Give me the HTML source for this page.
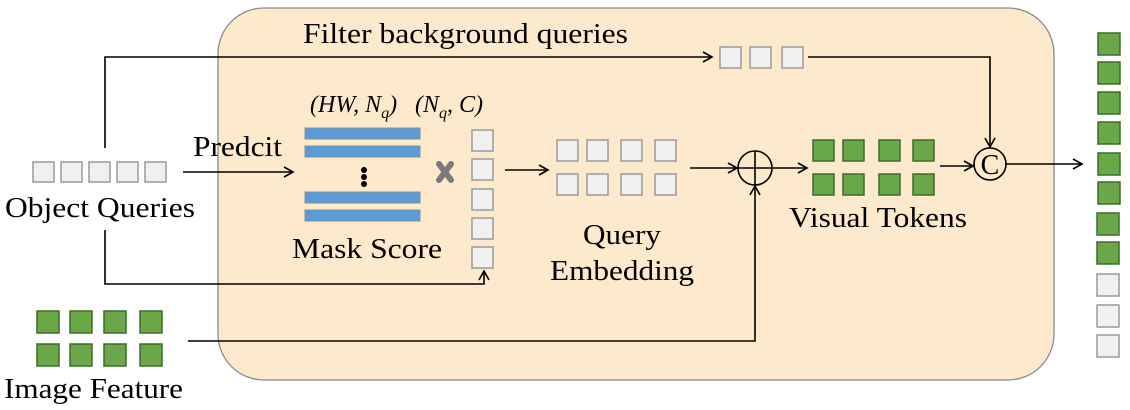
<!DOCTYPE html>
<html><head><meta charset="utf-8"><style>
html,body{margin:0;padding:0;background:#fff;}
svg{display:block;}
text{font-family:"Liberation Serif",serif;fill:#000;}
</style></head><body>
<svg width="1130" height="410" viewBox="0 0 1130 410" xmlns="http://www.w3.org/2000/svg">
<defs>
<marker id="a" markerWidth="12" markerHeight="12" refX="10" refY="6" orient="auto" markerUnits="userSpaceOnUse">
<path d="M1,1 L10,6 L1,11" fill="none" stroke="#000" stroke-width="1.6"/>
</marker>
</defs>
<rect x="218" y="8" width="836" height="372" rx="46" fill="#fde9cb" stroke="#8a8a8a" stroke-width="1.3"/>
<g fill="#f0f0f0" stroke="#9a9a9a" stroke-width="1.5">
<rect x="33" y="162" width="21" height="20"/><rect x="61" y="162" width="21" height="20"/><rect x="89" y="162" width="21" height="20"/><rect x="117" y="162" width="21" height="20"/><rect x="145" y="162" width="21" height="20"/>
<rect x="720" y="47" width="21" height="21"/><rect x="750" y="47" width="21" height="21"/><rect x="782" y="47" width="21" height="21"/>
<rect x="472" y="130" width="21" height="21"/><rect x="472" y="159" width="21" height="21"/><rect x="472" y="189" width="21" height="21"/><rect x="472" y="218" width="21" height="21"/><rect x="472" y="247" width="21" height="21"/>
<rect x="557" y="140" width="21" height="21"/><rect x="587" y="140" width="21" height="21"/><rect x="621" y="140" width="21" height="21"/><rect x="655" y="140" width="21" height="21"/>
<rect x="557" y="174" width="21" height="21"/><rect x="587" y="174" width="21" height="21"/><rect x="621" y="174" width="21" height="21"/><rect x="655" y="174" width="21" height="21"/>
<rect x="1097" y="274" width="22" height="22"/><rect x="1097" y="305" width="22" height="22"/><rect x="1097" y="335" width="22" height="22"/>
</g>
<g fill="#6aa84a" stroke="#3e6b2a" stroke-width="1.5">
<rect x="813" y="140" width="21" height="21"/><rect x="843" y="140" width="21" height="21"/><rect x="879" y="140" width="21" height="21"/><rect x="913" y="140" width="21" height="21"/>
<rect x="813" y="174" width="21" height="21"/><rect x="843" y="174" width="21" height="21"/><rect x="879" y="174" width="21" height="21"/><rect x="913" y="174" width="21" height="21"/>
<rect x="37" y="311" width="22" height="22"/><rect x="70" y="311" width="22" height="22"/><rect x="104" y="311" width="22" height="22"/><rect x="140" y="311" width="22" height="22"/>
<rect x="37" y="344" width="22" height="22"/><rect x="70" y="344" width="22" height="22"/><rect x="104" y="344" width="22" height="22"/><rect x="140" y="344" width="22" height="22"/>
<rect x="1098" y="33" width="22" height="22"/><rect x="1098" y="62" width="22" height="22"/><rect x="1098" y="92" width="22" height="22"/><rect x="1098" y="122" width="22" height="22"/><rect x="1098" y="153" width="22" height="22"/><rect x="1098" y="182" width="22" height="22"/><rect x="1097" y="213" width="22" height="22"/><rect x="1097" y="242" width="22" height="22"/>
</g>
<g fill="#5b9bd5" stroke="#7f8fa0" stroke-width="1">
<rect x="305" y="128" width="115" height="11"/><rect x="305" y="146" width="115" height="11"/>
<rect x="305" y="192" width="115" height="11"/><rect x="305" y="210" width="115" height="11"/>
</g>
<circle cx="364" cy="170" r="3"/><circle cx="364" cy="177" r="3"/><circle cx="364" cy="184" r="3"/>
<g stroke="#7a7a7a" stroke-width="6" stroke-linecap="round"><line x1="439" y1="164" x2="451" y2="180"/><line x1="451" y1="164" x2="439" y2="180"/></g>
<g fill="none" stroke="#000" stroke-width="1.6">
<polyline points="105,148 105,57 712,57" marker-end="url(#a)"/>
<polyline points="808,57 990,57 990,147" marker-end="url(#a)"/>
<line x1="183" y1="172" x2="293" y2="172" marker-end="url(#a)"/>
<polyline points="105,230 105,284 484,284 484,271" marker-end="url(#a)"/>
<line x1="505" y1="170" x2="548" y2="170" marker-end="url(#a)"/>
<line x1="690" y1="168" x2="737" y2="168" marker-end="url(#a)"/>
<ellipse cx="755" cy="168" rx="17" ry="17"/>
<line x1="738" y1="168" x2="772" y2="168"/><line x1="755" y1="151" x2="755" y2="185"/>
<line x1="772" y1="168" x2="807" y2="168" marker-end="url(#a)"/>
<polyline points="188,341 755,341 755,186" marker-end="url(#a)"/>
<line x1="940" y1="166" x2="973" y2="166" marker-end="url(#a)"/>
<circle cx="990" cy="164" r="16"/>
<line x1="1006" y1="164" x2="1082" y2="164" marker-end="url(#a)"/>
</g>
<text x="990" y="174" font-size="28" text-anchor="middle">C</text>
<text x="303" y="43" font-size="29" textLength="325" lengthAdjust="spacingAndGlyphs">Filter background queries</text>
<text x="193" y="156" font-size="29" textLength="89" lengthAdjust="spacingAndGlyphs">Predcit</text>
<text x="5" y="217" font-size="29" textLength="190" lengthAdjust="spacingAndGlyphs">Object Queries</text>
<text x="292" y="258" font-size="29" textLength="150" lengthAdjust="spacingAndGlyphs">Mask Score</text>
<text x="583" y="244" font-size="29" textLength="78" lengthAdjust="spacingAndGlyphs">Query</text>
<text x="550" y="280" font-size="29" textLength="144" lengthAdjust="spacingAndGlyphs">Embedding</text>
<text x="789" y="227" font-size="29" textLength="178" lengthAdjust="spacingAndGlyphs">Visual Tokens</text>
<text x="4" y="398" font-size="29" textLength="179" lengthAdjust="spacingAndGlyphs">Image Feature</text>
<text x="310" y="112" font-size="24" font-style="italic">(HW, N<tspan font-size="16" dy="6">q</tspan><tspan dy="-6">)</tspan></text>
<text x="415" y="112" font-size="24" font-style="italic">(N<tspan font-size="16" dy="6">q</tspan><tspan dy="-6">, C)</tspan></text>
</svg>
</body></html>
